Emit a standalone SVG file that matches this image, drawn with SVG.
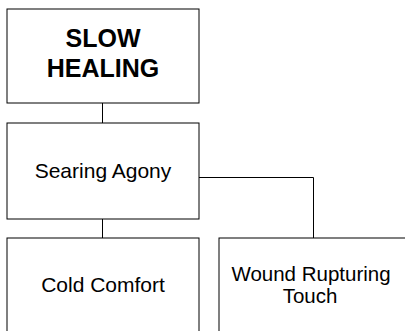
<svg xmlns="http://www.w3.org/2000/svg" width="405" height="331" viewBox="0 0 405 331">
<style>
.box{fill:#fff;stroke:#000;stroke-width:1}
.t{font-family:"Liberation Sans",Arial,sans-serif;fill:#000;text-anchor:middle}
.c{fill:none;stroke:#000;stroke-width:1}
</style>
<rect width="405" height="331" fill="#fff"/>
<g id="connectors">
<path class="c" d="M102.5 103V123"/>
<path class="c" d="M102.5 219V238"/>
<path class="c" d="M199 177.5H313.5V238"/>
</g>
<g id="slow-healing">
<rect class="box" x="7" y="9" width="192" height="94"/>
<text class="t" x="103" y="47" font-size="25" font-weight="bold">SLOW</text>
<text class="t" x="103" y="77" font-size="25" font-weight="bold">HEALING</text>
</g>
<g id="searing-agony">
<rect class="box" x="7" y="123" width="192" height="96"/>
<text class="t" x="103" y="178" font-size="21">Searing Agony</text>
</g>
<g id="cold-comfort">
<rect class="box" x="7" y="238" width="192" height="110"/>
<text class="t" x="103" y="292" font-size="21">Cold Comfort</text>
</g>
<g id="wound-rupturing-touch">
<rect class="box" x="219" y="238" width="200" height="110"/>
<text class="t" x="311" y="281" font-size="20.5">Wound Rupturing</text>
<text class="t" x="310" y="303" font-size="20.5">Touch</text>
</g>
</svg>
